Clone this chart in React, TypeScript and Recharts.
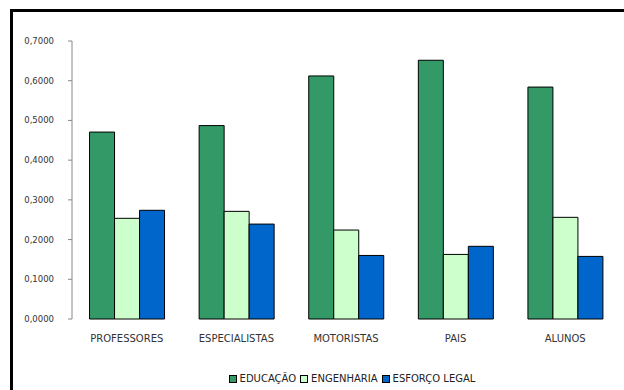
import { Bar, BarChart, Legend, XAxis, YAxis } from "recharts";

const categories = ["PROFESSORES", "ESPECIALISTAS", "MOTORISTAS", "PAIS", "ALUNOS"];
const educacao = [0.4707, 0.487, 0.612, 0.6515, 0.584];
const engenharia = [0.2535, 0.271, 0.224, 0.1626, 0.256];
const esforcoLegal = [0.2737, 0.239, 0.16, 0.183, 0.1576];
const yTicks = [0, 0.1, 0.2, 0.3, 0.4, 0.5, 0.6, 0.7];
const boundaryTicks = [0, 1, 2, 3, 4, 5];

const SERIES = [
  { key: "edu", name: "EDUCAÇÃO", color: "#339966" },
  { key: "eng", name: "ENGENHARIA", color: "#CCFFCC" },
  { key: "esf", name: "ESFORÇO LEGAL", color: "#0066CC" },
];

const data = categories.map((name, i) => ({
  name,
  pos: i + 0.5,
  edu: educacao[i],
  eng: engenharia[i],
  esf: esforcoLegal[i],
}));

const FONT = "'DejaVu Sans', sans-serif";

function LegendContent() {
  return (
    <div
      style={{
        display: "flex",
        justifyContent: "center",
        gap: 4,
        fontFamily: FONT,
        fontSize: 10,
        color: "#222",
        paddingLeft: 84,
      }}
    >
      {SERIES.map((s) => (
        <span key={s.key} style={{ display: "flex", alignItems: "center", gap: 3 }}>
          <span
            style={{
              width: 6,
              height: 6,
              background: s.color,
              border: "1px solid #000",
              display: "inline-block",
            }}
          />
          {s.name}
        </span>
      ))}
    </div>
  );
}

export default function App() {
  return (
    <div style={{ position: "absolute", left: 0, top: 0, width: 624, height: 390, background: "#fff" }}>
      <div
        style={{
          position: "absolute",
          left: 10,
          top: 9,
          width: 620,
          height: 390,
          borderLeft: "3px solid #000",
          borderTop: "3px solid #000",
        }}
      />
      <div style={{ position: "absolute", left: 0, top: 0 }}>
        <BarChart
          width={624}
          height={390}
          data={data}
          margin={{ top: 41, right: 4, left: 0, bottom: 6 }}
          barCategoryGap="16%"
          barGap={0}
        >
          <XAxis
            xAxisId="ticks"
            type="number"
            dataKey="pos"
            domain={[0, 5]}
            ticks={boundaryTicks}
            tick={false}
            tickSize={4}
            height={0}
            stroke="#555"
            axisLine={{ stroke: "#555" }}
          />
          <XAxis
            dataKey="name"
            axisLine={false}
            tickLine={false}
            height={54}
            tickMargin={10}
            tick={{ fontFamily: FONT, fontSize: 10, fill: "#333" }}
            interval={0}
          />
          <YAxis
            width={72}
            domain={[0, 0.7]}
            ticks={yTicks}
            tickSize={4}
            tickMargin={14}
            stroke="#888"
            tick={{ fontFamily: FONT, fontSize: 8.5, fill: "#333" }}
            tickFormatter={(v: number) => v.toFixed(4).replace(".", ",")}
          />
          <Legend verticalAlign="bottom" content={<LegendContent />} />
          {SERIES.map((s) => (
            <Bar
              key={s.key}
              dataKey={s.key}
              name={s.name}
              fill={s.color}
              stroke="#000"
              strokeWidth={1}
              isAnimationActive={false}
            />
          ))}
        </BarChart>
      </div>
    </div>
  );
}
